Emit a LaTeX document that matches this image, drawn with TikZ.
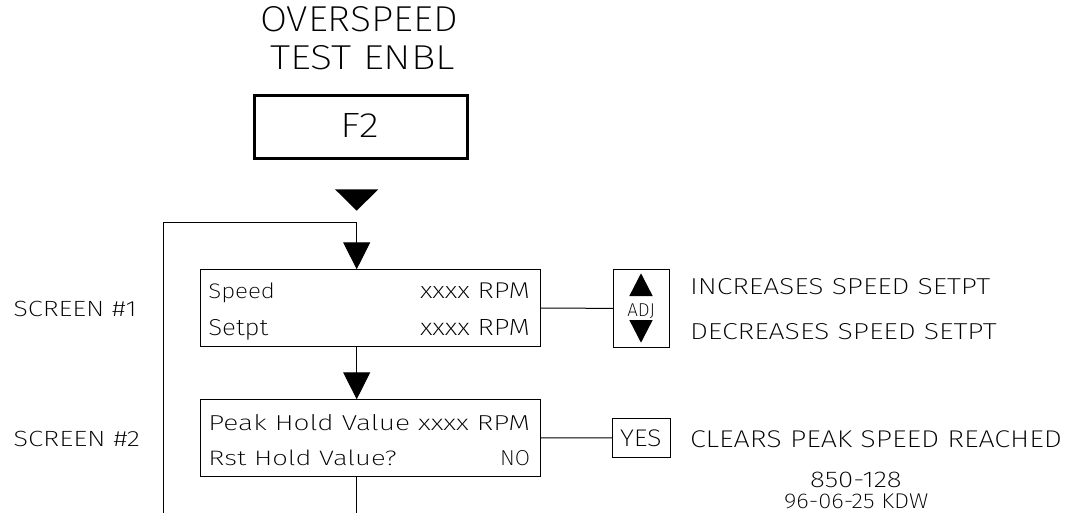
\documentclass[tikz,border=0pt]{standalone}
\usepackage{fontspec}
\setmainfont{Fira Sans ExtraLight}
\usetikzlibrary{arrows.meta}
\newcommand\fitt[3]{\resizebox{#1pt}{#2pt}{#3}}
\begin{document}
\begin{tikzpicture}[x=1pt,y=-1pt,line width=1pt,
  txt/.style={inner sep=0pt,outer sep=0pt,anchor=base west},
  box/.style={draw,rectangle,inner sep=0pt,outer sep=0pt,line width=1pt},
  flow/.style={-{Triangle[width=27pt,length=27pt]}}]
\useasboundingbox[fill=white] (0,0) rectangle (1065,513);

% title
\node[txt] (title1) at (260,32) {\fitt{198}{25}{OVERSPEED}};
\node[txt] (title2) at (270,70) {\fitt{185}{24}{TEST ENBL}};

% F2 key
\node[box,line width=3pt,minimum width=213pt,minimum height=63pt] (f2) at (361,127) {};
\node[txt] (f2t) at (340,137.3) {\fitt{39}{24}{F2}};
\fill (335,189.3) -- (378.3,189.3) -- (356.7,210.7) -- cycle;

% screens
\node[box,minimum width=339.3pt,minimum height=77.4pt] (s1) at (370.35,308) {};
\node[box,minimum width=339.3pt,minimum height=77.4pt] (s2) at (370.35,438) {};

\node[txt] (s1a) at (208.3,298.3) {\fitt{66.7}{15.6}{Speed}};
\node[txt,anchor=base east] (s1b) at (530,298.3) {\fitt{110}{15.6}{xxxx RPM}};
\node[txt] (s1c) at (208.3,335) {\fitt{60}{16}{Setpt}};
\node[txt,anchor=base east] (s1d) at (530,335) {\fitt{110}{16}{xxxx RPM}};

\node[txt] (s2a) at (208.3,430) {\fitt{321.7}{16}{Peak Hold Value xxxx RPM}};
\node[txt] (s2b) at (208.3,465) {\fitt{188.4}{15.5}{Rst Hold Value?}};
\node[txt,anchor=base east] (s2c) at (530,465) {\fitt{30}{15}{NO}};

% screen labels
\node[txt] (l1) at (13.3,316) {\fitt{123.4}{15.3}{SCREEN \#1}};
\node[txt] (l2) at (13.3,446) {\fitt{126.7}{15.3}{SCREEN \#2}};

% flow lines
\coordinate (ctop) at (356.7,222.7);
\coordinate (cleft) at (163.3,222.7);
\coordinate (bot) at (0,513);
\draw (cleft |- bot) -- (cleft) -- (ctop);
\draw[flow] (ctop) -- (ctop |- s1.north);
\draw[flow] (ctop |- s1.south) -- (ctop |- s2.north);
\draw (ctop |- s2.south) -- (ctop |- bot);

% ADJ key
\node[box,minimum width=56pt,minimum height=77.8pt] (adj) at (641.5,308.4) {};
\fill (629.3,296) -- (652.7,296) -- (641,273.3) -- cycle;
\fill (629.3,320) -- (652.7,320) -- (641,342.7) -- cycle;
\node[txt] (adjt) at (627.3,316) {\fitt{27.7}{12.7}{ADJ}};
\draw (s1.east) -- (adj.west);

% YES key
\node[box,minimum width=57.5pt,minimum height=38.5pt] (yes) at (641.5,437.8) {};
\node[txt] (yest) at (620,446.7) {\fitt{41.7}{16.7}{YES}};
\draw (s2.east) -- (yes.west);

% descriptions
\node[txt] (d1) at (690,294) {\fitt{300}{16}{INCREASES SPEED SETPT}};
\node[txt] (d2) at (690,339) {\fitt{306.7}{16}{DECREASES SPEED SETPT}};
\node[txt] (d3) at (690,447.5) {\fitt{371.7}{16.8}{CLEARS PEAK SPEED REACHED}};

% drawing number
\node[txt] (n1) at (810,487.8) {\fitt{91.7}{15.4}{850-128}};
\node[txt] (n2) at (784,508.5) {\fitt{144.3}{14.6}{96-06-25 KDW}};
\end{tikzpicture}
\end{document}
